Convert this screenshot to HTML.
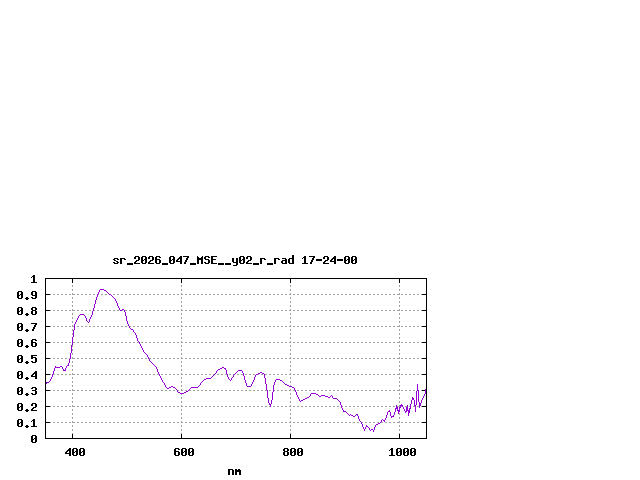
<!DOCTYPE html>
<html><head><meta charset="utf-8"><title>plot</title>
<style>html,body{margin:0;padding:0;background:#fff;font-family:"Liberation Sans",sans-serif}svg{display:block}</style></head>
<body>
<svg width="640" height="480" viewBox="0 0 640 480" shape-rendering="crispEdges">
<rect width="640" height="480" fill="#fff"/>
<path d="M45 294.5H427M45 310.5H427M45 326.5H427M45 342.5H427M45 358.5H427M45 374.5H427M45 390.5H427M45 406.5H427M45 422.5H427M72.5 439V278M181.5 439V278M290.5 439V278M399.5 439V278" stroke="#a0a0a0" stroke-width="1" stroke-dasharray="2 2" fill="none"/>
<path d="M46 278h4v1h-4zM422 278h4v1h-4zM46 294h4v1h-4zM422 294h4v1h-4zM46 310h4v1h-4zM422 310h4v1h-4zM46 326h4v1h-4zM422 326h4v1h-4zM46 342h4v1h-4zM422 342h4v1h-4zM46 358h4v1h-4zM422 358h4v1h-4zM46 374h4v1h-4zM422 374h4v1h-4zM46 390h4v1h-4zM422 390h4v1h-4zM46 406h4v1h-4zM422 406h4v1h-4zM46 422h4v1h-4zM422 422h4v1h-4zM46 438h4v1h-4zM422 438h4v1h-4zM72 434h1v4h-1zM72 279h1v4h-1zM181 434h1v4h-1zM181 279h1v4h-1zM290 434h1v4h-1zM290 279h1v4h-1zM399 434h1v4h-1zM399 279h1v4h-1z" fill="#000"/>
<path d="M46 382h1v2h-1zM47 382h2v1h-2zM49 381h1v1h-1zM50 379h1v2h-1zM51 377h1v2h-1zM52 374h1v3h-1zM53 371h1v3h-1zM54 368h1v3h-1zM55 366h1v2h-1zM56 367h4v1h-4zM60 366h2v1h-2zM62 367h1v2h-1zM63 369h1v2h-1zM64 370h1v1h-1zM65 368h1v3h-1zM66 366h1v2h-1zM67 365h1v1h-1zM68 363h1v3h-1zM69 359h1v4h-1zM70 353h1v6h-1zM71 345h1v8h-1zM72 337h1v8h-1zM73 330h1v7h-1zM74 324h1v6h-1zM75 322h1v2h-1zM76 320h1v2h-1zM77 318h1v2h-1zM78 316h1v2h-1zM79 315h1v1h-1zM80 314h4v1h-4zM84 315h1v1h-1zM85 316h1v2h-1zM86 318h1v3h-1zM87 321h1v1h-1zM88 322h1v1h-1zM89 319h1v3h-1zM90 317h1v2h-1zM91 315h1v2h-1zM92 311h1v4h-1zM93 308h1v3h-1zM94 304h1v4h-1zM95 300h1v4h-1zM96 297h1v3h-1zM97 294h1v3h-1zM98 292h1v2h-1zM99 290h1v2h-1zM100 289h4v1h-4zM104 290h2v1h-2zM106 291h1v1h-1zM107 292h1v1h-1zM108 293h1v1h-1zM109 294h2v1h-2zM111 295h1v1h-1zM112 296h1v1h-1zM113 297h1v1h-1zM114 298h1v1h-1zM115 299h1v2h-1zM116 301h1v2h-1zM117 303h1v3h-1zM118 306h1v2h-1zM119 308h1v2h-1zM120 310h2v1h-2zM122 309h2v1h-2zM124 310h1v2h-1zM125 312h1v4h-1zM126 316h1v5h-1zM127 321h1v3h-1zM128 324h1v2h-1zM129 326h1v2h-1zM130 328h1v1h-1zM131 329h2v1h-2zM133 330h1v2h-1zM134 332h1v1h-1zM135 333h1v2h-1zM136 335h1v3h-1zM137 338h1v3h-1zM138 341h1v1h-1zM139 342h1v2h-1zM140 344h1v2h-1zM141 346h1v2h-1zM142 348h1v2h-1zM143 350h1v2h-1zM144 352h1v1h-1zM145 353h1v1h-1zM146 354h1v1h-1zM147 355h1v2h-1zM148 357h1v2h-1zM149 359h1v2h-1zM150 361h1v1h-1zM151 362h1v1h-1zM152 363h1v1h-1zM153 364h1v1h-1zM154 365h1v1h-1zM155 366h1v1h-1zM156 367h1v2h-1zM157 369h1v3h-1zM158 372h1v2h-1zM159 374h1v2h-1zM160 376h1v2h-1zM161 378h1v2h-1zM162 380h1v2h-1zM163 382h1v1h-1zM164 383h1v2h-1zM165 385h1v2h-1zM166 387h1v1h-1zM167 388h2v1h-2zM169 387h2v1h-2zM171 386h2v1h-2zM173 387h2v1h-2zM175 388h1v1h-1zM176 389h1v1h-1zM177 390h1v2h-1zM178 392h2v1h-2zM180 393h4v1h-4zM184 392h2v1h-2zM186 391h2v1h-2zM188 390h1v1h-1zM189 389h1v1h-1zM190 388h1v1h-1zM191 387h7v1h-7zM198 386h1v1h-1zM199 385h1v1h-1zM200 383h1v2h-1zM201 382h1v1h-1zM202 381h1v1h-1zM203 380h1v1h-1zM204 379h2v1h-2zM206 378h5v1h-5zM211 377h1v1h-1zM212 376h1v1h-1zM213 375h1v1h-1zM214 374h1v1h-1zM215 373h1v1h-1zM216 371h1v2h-1zM217 370h1v1h-1zM218 369h2v1h-2zM220 368h2v1h-2zM222 367h2v1h-2zM224 368h1v1h-1zM225 368h1v2h-1zM226 370h1v4h-1zM227 374h1v3h-1zM228 377h1v2h-1zM229 379h1v1h-1zM230 380h1v1h-1zM231 378h1v2h-1zM232 377h1v1h-1zM233 375h1v2h-1zM234 374h1v1h-1zM235 373h1v1h-1zM236 372h1v1h-1zM237 371h1v1h-1zM238 370h4v1h-4zM242 371h1v2h-1zM243 373h1v3h-1zM244 376h1v4h-1zM245 380h1v3h-1zM246 383h1v3h-1zM247 386h4v1h-4zM251 384h1v2h-1zM252 382h1v2h-1zM253 380h1v2h-1zM254 377h1v3h-1zM255 375h1v2h-1zM256 374h2v1h-2zM258 373h2v1h-2zM260 372h2v1h-2zM262 373h2v1h-2zM264 374h1v4h-1zM265 378h1v6h-1zM266 384h1v6h-1zM267 390h1v8h-1zM268 398h1v5h-1zM269 403h1v2h-1zM270 404h1v3h-1zM271 400h1v4h-1zM272 392h1v8h-1zM273 385h1v7h-1zM274 382h1v3h-1zM275 380h1v2h-1zM276 379h4v1h-4zM280 380h2v1h-2zM282 381h1v1h-1zM283 382h1v1h-1zM284 383h1v1h-1zM285 384h2v1h-2zM287 385h2v1h-2zM289 386h3v1h-3zM292 387h2v1h-2zM294 388h1v2h-1zM295 390h1v2h-1zM296 392h1v3h-1zM297 395h1v2h-1zM298 397h1v2h-1zM299 399h1v2h-1zM300 401h1v1h-1zM301 400h2v1h-2zM303 399h2v1h-2zM305 398h2v1h-2zM307 397h2v1h-2zM309 396h1v1h-1zM310 394h1v2h-1zM311 393h5v1h-5zM316 394h2v1h-2zM318 395h1v1h-1zM319 396h2v1h-2zM321 395h4v1h-4zM325 396h3v1h-3zM328 397h2v1h-2zM330 396h1v1h-1zM331 395h1v1h-1zM332 396h1v2h-1zM333 398h4v1h-4zM337 399h1v1h-1zM338 400h1v1h-1zM339 401h1v1h-1zM340 402h1v3h-1zM341 405h1v3h-1zM342 408h1v2h-1zM343 410h1v2h-1zM344 411h2v1h-2zM346 412h1v1h-1zM347 413h1v1h-1zM348 414h1v1h-1zM349 415h1v1h-1zM350 414h1v1h-1zM351 415h2v1h-2zM353 416h2v1h-2zM355 415h1v1h-1zM356 414h1v1h-1zM357 414h1v2h-1zM358 416h1v3h-1zM359 419h1v2h-1zM360 421h1v1h-1zM361 422h1v2h-1zM362 424h1v3h-1zM363 427h1v2h-1zM364 429h1v2h-1zM365 427h1v2h-1zM366 425h1v2h-1zM367 426h1v1h-1zM368 427h1v1h-1zM369 428h1v2h-1zM370 430h1v1h-1zM371 429h2v1h-2zM373 430h1v2h-1zM374 427h1v3h-1zM375 425h1v2h-1zM376 424h2v1h-2zM378 423h2v1h-2zM380 422h1v1h-1zM381 420h1v2h-1zM382 419h1v1h-1zM383 420h1v1h-1zM384 420h1v2h-1zM385 418h1v2h-1zM386 415h1v3h-1zM387 412h1v3h-1zM388 411h1v1h-1zM389 410h1v2h-1zM390 412h1v4h-1zM391 416h1v2h-1zM392 416h1v1h-1zM393 415h1v2h-1zM394 412h1v3h-1zM395 408h1v4h-1zM396 405h1v4h-1zM397 407h1v4h-1zM398 410h1v4h-1zM399 407h1v5h-1zM400 405h1v3h-1zM401 404h1v2h-1zM402 405h1v2h-1zM403 407h1v2h-1zM404 409h1v2h-1zM405 411h1v2h-1zM406 407h1v5h-1zM407 405h1v6h-1zM408 410h1v6h-1zM409 408h1v5h-1zM410 404h1v5h-1zM411 400h1v4h-1zM412 397h1v3h-1zM413 398h1v2h-1zM414 400h1v6h-1zM415 405h1v7h-1zM416 391h1v14h-1zM417 384h1v7h-1zM418 390h1v12h-1zM419 402h1v6h-1zM420 403h1v3h-1zM421 400h1v3h-1zM422 398h1v2h-1zM423 396h1v2h-1zM424 394h1v2h-1zM425 389h1v5h-1z" fill="#9400d3"/>
<path d="M45 278h382v161h-382z M46 279v159h380v-159z" fill="#000" fill-rule="evenodd"/>
<path d="M114 258h4v1h-4zM113 259h2v1h-2zM117 259h2v1h-2zM114 260h2v1h-2zM116 261h2v1h-2zM113 262h2v1h-2zM117 262h2v1h-2zM114 263h4v1h-4zM120 258h5v1h-5zM120 259h2v1h-2zM124 259h2v1h-2zM120 260h2v1h-2zM120 261h2v1h-2zM120 262h2v1h-2zM120 263h2v1h-2zM127 263h6v1h-6zM127 264h6v1h-6zM135 256h4v1h-4zM134 257h2v1h-2zM138 257h2v1h-2zM134 258h2v1h-2zM138 258h2v1h-2zM138 259h2v1h-2zM136 260h3v1h-3zM135 261h2v1h-2zM134 262h2v1h-2zM134 263h6v1h-6zM142 256h4v1h-4zM141 257h2v1h-2zM145 257h2v1h-2zM141 258h2v1h-2zM145 258h2v1h-2zM141 259h2v1h-2zM144 259h3v1h-3zM141 260h3v1h-3zM145 260h2v1h-2zM141 261h2v1h-2zM145 261h2v1h-2zM141 262h2v1h-2zM145 262h2v1h-2zM142 263h4v1h-4zM149 256h4v1h-4zM148 257h2v1h-2zM152 257h2v1h-2zM148 258h2v1h-2zM152 258h2v1h-2zM152 259h2v1h-2zM150 260h3v1h-3zM149 261h2v1h-2zM148 262h2v1h-2zM148 263h6v1h-6zM156 256h4v1h-4zM155 257h2v1h-2zM159 257h2v1h-2zM155 258h2v1h-2zM155 259h5v1h-5zM155 260h2v1h-2zM159 260h2v1h-2zM155 261h2v1h-2zM159 261h2v1h-2zM155 262h2v1h-2zM159 262h2v1h-2zM156 263h4v1h-4zM162 263h6v1h-6zM162 264h6v1h-6zM170 256h4v1h-4zM169 257h2v1h-2zM173 257h2v1h-2zM169 258h2v1h-2zM173 258h2v1h-2zM169 259h2v1h-2zM172 259h3v1h-3zM169 260h3v1h-3zM173 260h2v1h-2zM169 261h2v1h-2zM173 261h2v1h-2zM169 262h2v1h-2zM173 262h2v1h-2zM170 263h4v1h-4zM180 256h2v1h-2zM179 257h3v1h-3zM178 258h4v1h-4zM177 259h2v1h-2zM180 259h2v1h-2zM176 260h2v1h-2zM180 260h2v1h-2zM176 261h6v1h-6zM180 262h2v1h-2zM180 263h2v1h-2zM183 256h6v1h-6zM187 257h2v1h-2zM186 258h2v1h-2zM186 259h2v1h-2zM185 260h2v1h-2zM185 261h2v1h-2zM184 262h2v1h-2zM184 263h2v1h-2zM190 263h6v1h-6zM190 264h6v1h-6zM197 256h1v1h-1zM202 256h1v1h-1zM197 257h2v1h-2zM201 257h2v1h-2zM197 258h6v1h-6zM197 259h6v1h-6zM197 260h2v1h-2zM201 260h2v1h-2zM197 261h2v1h-2zM201 261h2v1h-2zM197 262h2v1h-2zM201 262h2v1h-2zM197 263h2v1h-2zM201 263h2v1h-2zM205 256h4v1h-4zM204 257h2v1h-2zM208 257h2v1h-2zM204 258h2v1h-2zM205 259h4v1h-4zM208 260h2v1h-2zM208 261h2v1h-2zM204 262h2v1h-2zM208 262h2v1h-2zM205 263h4v1h-4zM211 256h6v1h-6zM211 257h2v1h-2zM211 258h2v1h-2zM211 259h5v1h-5zM211 260h2v1h-2zM211 261h2v1h-2zM211 262h2v1h-2zM211 263h6v1h-6zM218 263h6v1h-6zM218 264h6v1h-6zM225 263h6v1h-6zM225 264h6v1h-6zM232 258h2v1h-2zM236 258h2v1h-2zM232 259h2v1h-2zM236 259h2v1h-2zM232 260h2v1h-2zM236 260h2v1h-2zM232 261h2v1h-2zM236 261h2v1h-2zM233 262h5v1h-5zM236 263h2v1h-2zM236 264h2v1h-2zM233 265h4v1h-4zM240 256h4v1h-4zM239 257h2v1h-2zM243 257h2v1h-2zM239 258h2v1h-2zM243 258h2v1h-2zM239 259h2v1h-2zM242 259h3v1h-3zM239 260h3v1h-3zM243 260h2v1h-2zM239 261h2v1h-2zM243 261h2v1h-2zM239 262h2v1h-2zM243 262h2v1h-2zM240 263h4v1h-4zM247 256h4v1h-4zM246 257h2v1h-2zM250 257h2v1h-2zM246 258h2v1h-2zM250 258h2v1h-2zM250 259h2v1h-2zM248 260h3v1h-3zM247 261h2v1h-2zM246 262h2v1h-2zM246 263h6v1h-6zM253 263h6v1h-6zM253 264h6v1h-6zM260 258h5v1h-5zM260 259h2v1h-2zM264 259h2v1h-2zM260 260h2v1h-2zM260 261h2v1h-2zM260 262h2v1h-2zM260 263h2v1h-2zM267 263h6v1h-6zM267 264h6v1h-6zM274 258h5v1h-5zM274 259h2v1h-2zM278 259h2v1h-2zM274 260h2v1h-2zM274 261h2v1h-2zM274 262h2v1h-2zM274 263h2v1h-2zM282 258h4v1h-4zM285 259h2v1h-2zM282 260h5v1h-5zM281 261h2v1h-2zM285 261h2v1h-2zM281 262h2v1h-2zM285 262h2v1h-2zM282 263h5v1h-5zM292 255h2v1h-2zM292 256h2v1h-2zM292 257h2v1h-2zM289 258h5v1h-5zM288 259h2v1h-2zM292 259h2v1h-2zM288 260h2v1h-2zM292 260h2v1h-2zM288 261h2v1h-2zM292 261h2v1h-2zM288 262h2v1h-2zM292 262h2v1h-2zM289 263h5v1h-5zM304 256h2v1h-2zM303 257h3v1h-3zM302 258h1v1h-1zM304 258h2v1h-2zM304 259h2v1h-2zM304 260h2v1h-2zM304 261h2v1h-2zM304 262h2v1h-2zM302 263h6v1h-6zM309 256h6v1h-6zM313 257h2v1h-2zM312 258h2v1h-2zM312 259h2v1h-2zM311 260h2v1h-2zM311 261h2v1h-2zM310 262h2v1h-2zM310 263h2v1h-2zM316 259h6v1h-6zM316 260h6v1h-6zM324 256h4v1h-4zM323 257h2v1h-2zM327 257h2v1h-2zM323 258h2v1h-2zM327 258h2v1h-2zM327 259h2v1h-2zM325 260h3v1h-3zM324 261h2v1h-2zM323 262h2v1h-2zM323 263h6v1h-6zM334 256h2v1h-2zM333 257h3v1h-3zM332 258h4v1h-4zM331 259h2v1h-2zM334 259h2v1h-2zM330 260h2v1h-2zM334 260h2v1h-2zM330 261h6v1h-6zM334 262h2v1h-2zM334 263h2v1h-2zM337 259h6v1h-6zM337 260h6v1h-6zM345 256h4v1h-4zM344 257h2v1h-2zM348 257h2v1h-2zM344 258h2v1h-2zM348 258h2v1h-2zM344 259h2v1h-2zM347 259h3v1h-3zM344 260h3v1h-3zM348 260h2v1h-2zM344 261h2v1h-2zM348 261h2v1h-2zM344 262h2v1h-2zM348 262h2v1h-2zM345 263h4v1h-4zM352 256h4v1h-4zM351 257h2v1h-2zM355 257h2v1h-2zM351 258h2v1h-2zM355 258h2v1h-2zM351 259h2v1h-2zM354 259h3v1h-3zM351 260h3v1h-3zM355 260h2v1h-2zM351 261h2v1h-2zM355 261h2v1h-2zM351 262h2v1h-2zM355 262h2v1h-2zM352 263h4v1h-4zM33 275h2v1h-2zM32 276h3v1h-3zM31 277h1v1h-1zM33 277h2v1h-2zM33 278h2v1h-2zM33 279h2v1h-2zM33 280h2v1h-2zM33 281h2v1h-2zM31 282h6v1h-6zM18 291h4v1h-4zM17 292h2v1h-2zM21 292h2v1h-2zM17 293h2v1h-2zM21 293h2v1h-2zM17 294h2v1h-2zM20 294h3v1h-3zM17 295h3v1h-3zM21 295h2v1h-2zM17 296h2v1h-2zM21 296h2v1h-2zM17 297h2v1h-2zM21 297h2v1h-2zM18 298h4v1h-4zM26 297h2v1h-2zM25 298h4v1h-4zM26 299h2v1h-2zM32 291h4v1h-4zM31 292h2v1h-2zM35 292h2v1h-2zM31 293h2v1h-2zM35 293h2v1h-2zM31 294h2v1h-2zM35 294h2v1h-2zM32 295h5v1h-5zM35 296h2v1h-2zM31 297h2v1h-2zM35 297h2v1h-2zM32 298h4v1h-4zM18 307h4v1h-4zM17 308h2v1h-2zM21 308h2v1h-2zM17 309h2v1h-2zM21 309h2v1h-2zM17 310h2v1h-2zM20 310h3v1h-3zM17 311h3v1h-3zM21 311h2v1h-2zM17 312h2v1h-2zM21 312h2v1h-2zM17 313h2v1h-2zM21 313h2v1h-2zM18 314h4v1h-4zM26 313h2v1h-2zM25 314h4v1h-4zM26 315h2v1h-2zM32 307h4v1h-4zM31 308h2v1h-2zM35 308h2v1h-2zM31 309h2v1h-2zM35 309h2v1h-2zM32 310h4v1h-4zM31 311h2v1h-2zM35 311h2v1h-2zM31 312h2v1h-2zM35 312h2v1h-2zM31 313h2v1h-2zM35 313h2v1h-2zM32 314h4v1h-4zM18 323h4v1h-4zM17 324h2v1h-2zM21 324h2v1h-2zM17 325h2v1h-2zM21 325h2v1h-2zM17 326h2v1h-2zM20 326h3v1h-3zM17 327h3v1h-3zM21 327h2v1h-2zM17 328h2v1h-2zM21 328h2v1h-2zM17 329h2v1h-2zM21 329h2v1h-2zM18 330h4v1h-4zM26 329h2v1h-2zM25 330h4v1h-4zM26 331h2v1h-2zM31 323h6v1h-6zM35 324h2v1h-2zM34 325h2v1h-2zM34 326h2v1h-2zM33 327h2v1h-2zM33 328h2v1h-2zM32 329h2v1h-2zM32 330h2v1h-2zM18 339h4v1h-4zM17 340h2v1h-2zM21 340h2v1h-2zM17 341h2v1h-2zM21 341h2v1h-2zM17 342h2v1h-2zM20 342h3v1h-3zM17 343h3v1h-3zM21 343h2v1h-2zM17 344h2v1h-2zM21 344h2v1h-2zM17 345h2v1h-2zM21 345h2v1h-2zM18 346h4v1h-4zM26 345h2v1h-2zM25 346h4v1h-4zM26 347h2v1h-2zM32 339h4v1h-4zM31 340h2v1h-2zM35 340h2v1h-2zM31 341h2v1h-2zM31 342h5v1h-5zM31 343h2v1h-2zM35 343h2v1h-2zM31 344h2v1h-2zM35 344h2v1h-2zM31 345h2v1h-2zM35 345h2v1h-2zM32 346h4v1h-4zM18 355h4v1h-4zM17 356h2v1h-2zM21 356h2v1h-2zM17 357h2v1h-2zM21 357h2v1h-2zM17 358h2v1h-2zM20 358h3v1h-3zM17 359h3v1h-3zM21 359h2v1h-2zM17 360h2v1h-2zM21 360h2v1h-2zM17 361h2v1h-2zM21 361h2v1h-2zM18 362h4v1h-4zM26 361h2v1h-2zM25 362h4v1h-4zM26 363h2v1h-2zM31 355h6v1h-6zM31 356h2v1h-2zM31 357h5v1h-5zM31 358h2v1h-2zM35 358h2v1h-2zM35 359h2v1h-2zM35 360h2v1h-2zM31 361h2v1h-2zM35 361h2v1h-2zM32 362h4v1h-4zM18 371h4v1h-4zM17 372h2v1h-2zM21 372h2v1h-2zM17 373h2v1h-2zM21 373h2v1h-2zM17 374h2v1h-2zM20 374h3v1h-3zM17 375h3v1h-3zM21 375h2v1h-2zM17 376h2v1h-2zM21 376h2v1h-2zM17 377h2v1h-2zM21 377h2v1h-2zM18 378h4v1h-4zM26 377h2v1h-2zM25 378h4v1h-4zM26 379h2v1h-2zM35 371h2v1h-2zM34 372h3v1h-3zM33 373h4v1h-4zM32 374h2v1h-2zM35 374h2v1h-2zM31 375h2v1h-2zM35 375h2v1h-2zM31 376h6v1h-6zM35 377h2v1h-2zM35 378h2v1h-2zM18 387h4v1h-4zM17 388h2v1h-2zM21 388h2v1h-2zM17 389h2v1h-2zM21 389h2v1h-2zM17 390h2v1h-2zM20 390h3v1h-3zM17 391h3v1h-3zM21 391h2v1h-2zM17 392h2v1h-2zM21 392h2v1h-2zM17 393h2v1h-2zM21 393h2v1h-2zM18 394h4v1h-4zM26 393h2v1h-2zM25 394h4v1h-4zM26 395h2v1h-2zM32 387h4v1h-4zM31 388h2v1h-2zM35 388h2v1h-2zM35 389h2v1h-2zM32 390h4v1h-4zM35 391h2v1h-2zM35 392h2v1h-2zM31 393h2v1h-2zM35 393h2v1h-2zM32 394h4v1h-4zM18 403h4v1h-4zM17 404h2v1h-2zM21 404h2v1h-2zM17 405h2v1h-2zM21 405h2v1h-2zM17 406h2v1h-2zM20 406h3v1h-3zM17 407h3v1h-3zM21 407h2v1h-2zM17 408h2v1h-2zM21 408h2v1h-2zM17 409h2v1h-2zM21 409h2v1h-2zM18 410h4v1h-4zM26 409h2v1h-2zM25 410h4v1h-4zM26 411h2v1h-2zM32 403h4v1h-4zM31 404h2v1h-2zM35 404h2v1h-2zM31 405h2v1h-2zM35 405h2v1h-2zM35 406h2v1h-2zM33 407h3v1h-3zM32 408h2v1h-2zM31 409h2v1h-2zM31 410h6v1h-6zM18 419h4v1h-4zM17 420h2v1h-2zM21 420h2v1h-2zM17 421h2v1h-2zM21 421h2v1h-2zM17 422h2v1h-2zM20 422h3v1h-3zM17 423h3v1h-3zM21 423h2v1h-2zM17 424h2v1h-2zM21 424h2v1h-2zM17 425h2v1h-2zM21 425h2v1h-2zM18 426h4v1h-4zM26 425h2v1h-2zM25 426h4v1h-4zM26 427h2v1h-2zM33 419h2v1h-2zM32 420h3v1h-3zM31 421h1v1h-1zM33 421h2v1h-2zM33 422h2v1h-2zM33 423h2v1h-2zM33 424h2v1h-2zM33 425h2v1h-2zM31 426h6v1h-6zM32 435h4v1h-4zM31 436h2v1h-2zM35 436h2v1h-2zM31 437h2v1h-2zM35 437h2v1h-2zM31 438h2v1h-2zM34 438h3v1h-3zM31 439h3v1h-3zM35 439h2v1h-2zM31 440h2v1h-2zM35 440h2v1h-2zM31 441h2v1h-2zM35 441h2v1h-2zM32 442h4v1h-4zM69 448h2v1h-2zM68 449h3v1h-3zM67 450h4v1h-4zM66 451h2v1h-2zM69 451h2v1h-2zM65 452h2v1h-2zM69 452h2v1h-2zM65 453h6v1h-6zM69 454h2v1h-2zM69 455h2v1h-2zM73 448h4v1h-4zM72 449h2v1h-2zM76 449h2v1h-2zM72 450h2v1h-2zM76 450h2v1h-2zM72 451h2v1h-2zM75 451h3v1h-3zM72 452h3v1h-3zM76 452h2v1h-2zM72 453h2v1h-2zM76 453h2v1h-2zM72 454h2v1h-2zM76 454h2v1h-2zM73 455h4v1h-4zM80 448h4v1h-4zM79 449h2v1h-2zM83 449h2v1h-2zM79 450h2v1h-2zM83 450h2v1h-2zM79 451h2v1h-2zM82 451h3v1h-3zM79 452h3v1h-3zM83 452h2v1h-2zM79 453h2v1h-2zM83 453h2v1h-2zM79 454h2v1h-2zM83 454h2v1h-2zM80 455h4v1h-4zM175 448h4v1h-4zM174 449h2v1h-2zM178 449h2v1h-2zM174 450h2v1h-2zM174 451h5v1h-5zM174 452h2v1h-2zM178 452h2v1h-2zM174 453h2v1h-2zM178 453h2v1h-2zM174 454h2v1h-2zM178 454h2v1h-2zM175 455h4v1h-4zM182 448h4v1h-4zM181 449h2v1h-2zM185 449h2v1h-2zM181 450h2v1h-2zM185 450h2v1h-2zM181 451h2v1h-2zM184 451h3v1h-3zM181 452h3v1h-3zM185 452h2v1h-2zM181 453h2v1h-2zM185 453h2v1h-2zM181 454h2v1h-2zM185 454h2v1h-2zM182 455h4v1h-4zM189 448h4v1h-4zM188 449h2v1h-2zM192 449h2v1h-2zM188 450h2v1h-2zM192 450h2v1h-2zM188 451h2v1h-2zM191 451h3v1h-3zM188 452h3v1h-3zM192 452h2v1h-2zM188 453h2v1h-2zM192 453h2v1h-2zM188 454h2v1h-2zM192 454h2v1h-2zM189 455h4v1h-4zM284 448h4v1h-4zM283 449h2v1h-2zM287 449h2v1h-2zM283 450h2v1h-2zM287 450h2v1h-2zM284 451h4v1h-4zM283 452h2v1h-2zM287 452h2v1h-2zM283 453h2v1h-2zM287 453h2v1h-2zM283 454h2v1h-2zM287 454h2v1h-2zM284 455h4v1h-4zM291 448h4v1h-4zM290 449h2v1h-2zM294 449h2v1h-2zM290 450h2v1h-2zM294 450h2v1h-2zM290 451h2v1h-2zM293 451h3v1h-3zM290 452h3v1h-3zM294 452h2v1h-2zM290 453h2v1h-2zM294 453h2v1h-2zM290 454h2v1h-2zM294 454h2v1h-2zM291 455h4v1h-4zM298 448h4v1h-4zM297 449h2v1h-2zM301 449h2v1h-2zM297 450h2v1h-2zM301 450h2v1h-2zM297 451h2v1h-2zM300 451h3v1h-3zM297 452h3v1h-3zM301 452h2v1h-2zM297 453h2v1h-2zM301 453h2v1h-2zM297 454h2v1h-2zM301 454h2v1h-2zM298 455h4v1h-4zM391 448h2v1h-2zM390 449h3v1h-3zM389 450h1v1h-1zM391 450h2v1h-2zM391 451h2v1h-2zM391 452h2v1h-2zM391 453h2v1h-2zM391 454h2v1h-2zM389 455h6v1h-6zM397 448h4v1h-4zM396 449h2v1h-2zM400 449h2v1h-2zM396 450h2v1h-2zM400 450h2v1h-2zM396 451h2v1h-2zM399 451h3v1h-3zM396 452h3v1h-3zM400 452h2v1h-2zM396 453h2v1h-2zM400 453h2v1h-2zM396 454h2v1h-2zM400 454h2v1h-2zM397 455h4v1h-4zM404 448h4v1h-4zM403 449h2v1h-2zM407 449h2v1h-2zM403 450h2v1h-2zM407 450h2v1h-2zM403 451h2v1h-2zM406 451h3v1h-3zM403 452h3v1h-3zM407 452h2v1h-2zM403 453h2v1h-2zM407 453h2v1h-2zM403 454h2v1h-2zM407 454h2v1h-2zM404 455h4v1h-4zM411 448h4v1h-4zM410 449h2v1h-2zM414 449h2v1h-2zM410 450h2v1h-2zM414 450h2v1h-2zM410 451h2v1h-2zM413 451h3v1h-3zM410 452h3v1h-3zM414 452h2v1h-2zM410 453h2v1h-2zM414 453h2v1h-2zM410 454h2v1h-2zM414 454h2v1h-2zM411 455h4v1h-4zM228 469h5v1h-5zM228 470h2v1h-2zM232 470h2v1h-2zM228 471h2v1h-2zM232 471h2v1h-2zM228 472h2v1h-2zM232 472h2v1h-2zM228 473h2v1h-2zM232 473h2v1h-2zM228 474h2v1h-2zM232 474h2v1h-2zM235 469h2v1h-2zM238 469h2v1h-2zM235 470h6v1h-6zM235 471h6v1h-6zM235 472h2v1h-2zM239 472h2v1h-2zM235 473h2v1h-2zM239 473h2v1h-2zM235 474h2v1h-2zM239 474h2v1h-2z" fill="#000"/>
</svg>
</body></html>
